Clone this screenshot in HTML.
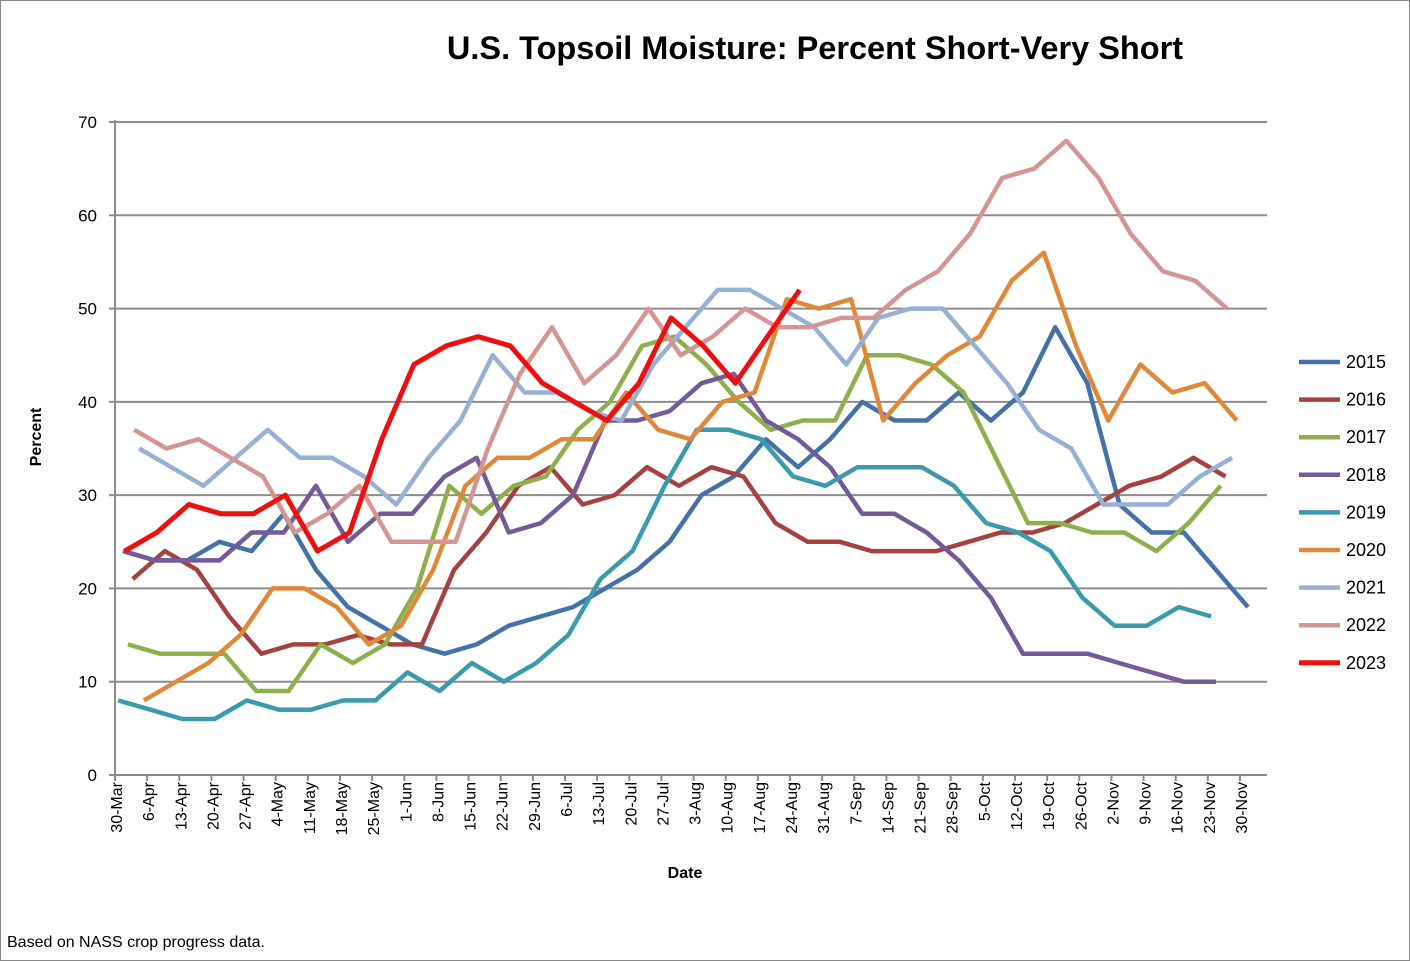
<!DOCTYPE html>
<html><head><meta charset="utf-8">
<style>
html,body{margin:0;padding:0;background:#fff;}
svg{display:block;font-family:"Liberation Sans",sans-serif;}
</style></head>
<body>
<svg id="chart" width="1410" height="961">
<rect x="0.5" y="0.5" width="1409" height="960" fill="#fff" stroke="#888"/>
<text x="815" y="59" text-anchor="middle" font-size="32.5" font-weight="bold" fill="#000">U.S. Topsoil Moisture: Percent Short-Very Short</text>
<text transform="translate(41,437) rotate(-90)" text-anchor="middle" font-size="16" font-weight="bold">Percent</text>
<text x="685" y="878" text-anchor="middle" font-size="16" font-weight="bold">Date</text>
<text x="7" y="947" font-size="16">Based on NASS crop progress data.</text>
<g id="grid"></g><g id="axes"></g><g id="series"></g><g id="legend"></g>
</svg>
<script>
const categories=["30-Mar","6-Apr","13-Apr","20-Apr","27-Apr","4-May","11-May","18-May","25-May","1-Jun","8-Jun","15-Jun","22-Jun","29-Jun","6-Jul","13-Jul","20-Jul","27-Jul","3-Aug","10-Aug","17-Aug","24-Aug","31-Aug","7-Sep","14-Sep","21-Sep","28-Sep","5-Oct","12-Oct","19-Oct","26-Oct","2-Nov","9-Nov","16-Nov","23-Nov","30-Nov"];
const yTicks=[0,10,20,30,40,50,60,70];
const seriesNames=["2015","2016","2017","2018","2019","2020","2021","2022","2023"];
const v2015=[24,23,23,25,24,28,22,18,16,14,13,14,16,17,18,20,22,25,30,32,36,33,36,40,38,38,41,38,41,48,42,29,26,26,22,18];
const v2016=[21,24,22,17,13,14,14,15,14,14,22,26,31,33,29,30,33,31,33,32,27,25,25,24,24,24,25,26,26,27,29,31,32,34,32];
const v2017=[14,13,13,13,9,9,14,12,14,20,31,28,31,32,37,40,46,47,44,40,37,38,38,45,45,44,41,34,27,27,26,26,24,27,31];
const v2018=[24,23,23,23,26,26,31,25,28,28,32,34,26,27,30,38,38,39,42,43,38,36,33,28,28,26,23,19,13,13,13,12,11,10,10];
const v2019=[8,7,6,6,8,7,7,8,8,11,9,12,10,12,15,21,24,31,37,37,36,32,31,33,33,33,31,27,26,24,19,16,16,18,17];
const v2020=[8,10,12,15,20,20,18,14,16,22,31,34,34,36,36,41,37,36,40,41,51,50,51,38,42,45,47,53,56,46,38,44,41,42,38];
const v2021=[35,33,31,34,37,34,34,32,29,34,38,45,41,41,39,38,44,48,52,52,50,48,44,49,50,50,46,42,37,35,29,29,29,32,34];
const v2022=[37,35,36,34,32,26,28,31,25,25,25,35,43,48,42,45,50,45,47,50,48,48,49,49,52,54,58,64,65,68,64,58,54,53,50];
const v2023=[24,26,29,28,28,30,24,26,36,44,46,47,46,42,40,38,42,49,46,42,47,52];
const seriesValues=[v2015,v2016,v2017,v2018,v2019,v2020,v2021,v2022,v2023];

const colors=["#4472a8","#a5423f","#8db04c","#735a9a","#3b9aae","#e0883a","#96b0d6","#d49593","#ee0f0f"];
const offsets=[0.25,0.55,0.4,0.25,0.1,0.9,0.75,0.6,0.3];
const widths=[4.5,4.5,4.5,4.5,4.5,4.5,4.5,4.5,5];
const X0=115,X1=1240,Y0=775,Y70=122;
const xs=i=>X0+(X1-X0)/35*i;
const ys=v=>Y0-(Y0-Y70)*v/70;
const NS="http://www.w3.org/2000/svg";
function mk(t,a,p){const e=document.createElementNS(NS,t);for(const k in a)e.setAttribute(k,a[k]);p.appendChild(e);return e;}
const grid=document.getElementById('grid'),axes=document.getElementById('axes'),ser=document.getElementById('series'),leg=document.getElementById('legend');
yTicks.forEach(t=>{
  if(t>0){const l=mk('line',{x1:X0,x2:1267,y1:ys(t),y2:ys(t),stroke:'#8c8c8c','stroke-width':2},grid);
  
  }
  const tk=mk('line',{x1:X0-6,x2:X0,y1:ys(t),y2:ys(t),stroke:'#8c8c8c','stroke-width':2},axes);
  
  
  const tx=mk('text',{x:97,y:ys(t)+6,'text-anchor':'end','font-size':17},axes);tx.textContent=t;
  
  
});
const ya=mk('line',{x1:X0,x2:X0,y1:ys(70)-2,y2:Y0+6,stroke:'#8c8c8c','stroke-width':2},axes);


const xa=mk('line',{x1:X0,x2:1267,y1:Y0,y2:Y0,stroke:'#8c8c8c','stroke-width':2},axes);


categories.forEach((c,i)=>{
  const tk=mk('line',{x1:xs(i),x2:xs(i),y1:Y0,y2:Y0+6,stroke:'#8c8c8c','stroke-width':2},axes);
  
  
  const tx=mk('text',{transform:`translate(${xs(i)+7},782) rotate(-90)`,'text-anchor':'end','font-size':16},axes);tx.textContent=c;
  
  
});
seriesValues.forEach((vals,s)=>{
  const pts=vals.map((v,i)=>xs(i+offsets[s]).toFixed(1)+','+ys(v).toFixed(1)).join(' ');
  const pl=mk('polyline',{points:pts,fill:'none',stroke:colors[s],'stroke-width':widths[s],'stroke-linejoin':'round'},ser);
  
  
  const y=362+s*37.6;
  const g=mk('g',{},leg);
  
  
  mk('line',{x1:1299,x2:1340,y1:y,y2:y,stroke:colors[s],'stroke-width':widths[s]},g);
  const t=mk('text',{x:1346,y:y+6,'font-size':18},g);t.textContent=seriesNames[s];
});
</script>
</body></html>
